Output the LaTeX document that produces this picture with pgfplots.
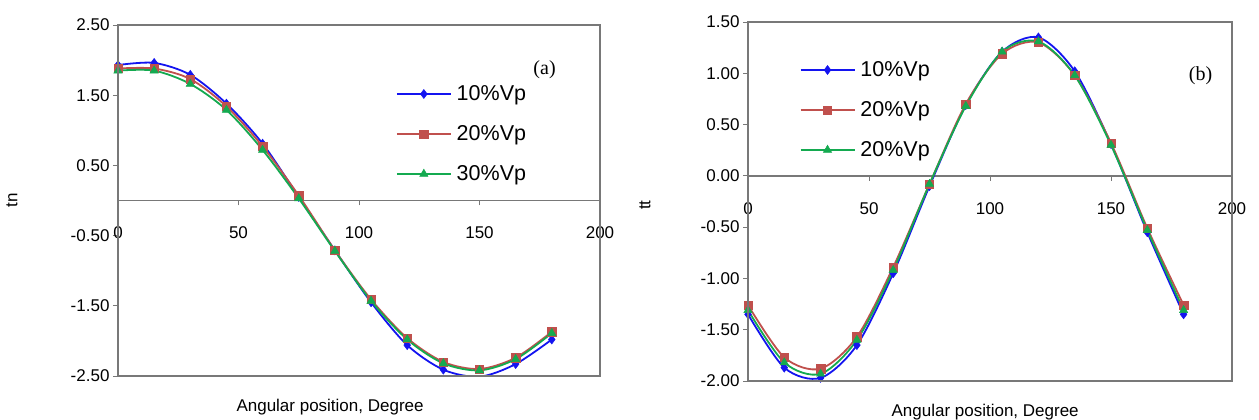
\documentclass[border=0pt]{standalone}
\usepackage{fontspec}
\setmainfont{Liberation Sans}
\newfontfamily\seriffont{Liberation Serif}
\usepackage{pgfplots}
\pgfplotsset{compat=1.18}
\definecolor{cblue}{RGB}{20,20,240}
\definecolor{cred}{RGB}{192,80,77}
\definecolor{cgreen}{RGB}{20,170,80}
\definecolor{frame}{RGB}{120,120,120}
\pgfplotsset{
  myax/.style={
    scale only axis,
    axis x line=middle, axis y line=left,
    axis line style={draw=frame, line width=1.3pt, -},
    hide obscured x ticks=false,
    xmin=0, xmax=200, xtick={0,50,100,150,200},
    tick align=outside, major tick length=5pt,
    tick style={draw=frame, line width=0.9pt},
    font=\fontsize{17}{20}\selectfont,
    tick label style={font=\fontsize{17}{20}\selectfont},
    /pgf/number format/assume math mode=true,
    xticklabel style={yshift=-18pt},
    yticklabel style={/pgf/number format/fixed, /pgf/number format/fixed zerofill, /pgf/number format/precision=2},
    legend style={draw=none, fill=none, anchor=north west, row sep=19.5pt, font=\fontsize{21.5}{24}\selectfont,
      /tikz/every even column/.append style={column sep=0pt}},
    legend cell align=left,
    legend image code/.code={\draw[mark repeat=2,mark phase=2,##1,line width=1.8pt] plot coordinates {(0pt,0pt) (27pt,0pt) (54pt,0pt)};},
    after end axis/.code={\draw[frame, line width=1.3pt] (rel axis cs:0,0) rectangle (rel axis cs:1,1);},
  },
  sb/.style={color=cblue, line width=1.8pt, smooth, mark=diamond*, mark size=4.5pt, mark options={solid, fill=cblue, line width=0.5pt}},
  sr/.style={color=cred, line width=1.8pt, smooth, mark=square*, mark size=4.2pt, mark options={solid, fill=cred, line width=0.5pt}},
  sg/.style={color=cgreen, line width=1.8pt, smooth, mark=triangle*, mark size=4.8pt, mark options={solid, fill=cgreen, line width=0.5pt}},
}
\begin{document}
\begin{tikzpicture}
\useasboundingbox (0pt,0pt) rectangle (1259pt,420pt);
\begin{axis}[myax, at={(118pt,44pt)}, anchor=south west,
  width=482pt, height=351pt,
  ymin=-2.5, ymax=2.5, ytick={-2.5,-1.5,-0.5,0.5,1.5,2.5},
  xlabel={Angular position, Degree},
  xlabel style={at={(rel axis cs:0.44,0)}, anchor=north, yshift=-20pt},
  ylabel={tn},
  ylabel style={at={(rel axis cs:-0.22,0.5)}, anchor=center},
  legend style={at={(rel axis cs:0.57,0.839)}, /tikz/every odd column/.append style={column sep=3pt}},
]
\addplot[sb] coordinates {(0,1.93) (15,1.96) (30,1.79) (45,1.38) (60,0.81) (75,0.05) (90,-0.71) (105,-1.45) (120,-2.06) (135,-2.41) (150,-2.51) (165,-2.33) (180,-1.98)};
\addlegendentry{10\%Vp}
\addplot[sr] coordinates {(0,1.88) (15,1.88) (30,1.73) (45,1.34) (60,0.77) (75,0.07) (90,-0.71) (105,-1.41) (120,-1.96) (135,-2.30) (150,-2.40) (165,-2.24) (180,-1.87)};
\addlegendentry{20\%Vp}
\addplot[sg] coordinates {(0,1.85) (15,1.85) (30,1.66) (45,1.29) (60,0.72) (75,0.03) (90,-0.72) (105,-1.43) (120,-1.98) (135,-2.32) (150,-2.42) (165,-2.26) (180,-1.89)};
\addlegendentry{30\%Vp}
\node[font=\seriffont\fontsize{20}{22}\selectfont] at (axis cs:177,1.86) {(a)};
\end{axis}
\begin{axis}[myax, at={(748pt,39pt)}, anchor=south west,
  width=484pt, height=359pt,
  ymin=-2, ymax=1.5, ytick={-2,-1.5,...,1.5},
  xlabel={Angular position, Degree},
  xlabel style={at={(rel axis cs:0.49,0)}, anchor=north, yshift=-20pt},
  ylabel={tt},
  ylabel style={at={(rel axis cs:-0.213,0.49)}, anchor=center},
  legend style={at={(rel axis cs:0.1,0.901)}, /tikz/every odd column/.append style={column sep=3pt}},
]
\addplot[sb] coordinates {(0,-1.35) (15,-1.87) (30,-1.97) (45,-1.65) (60,-0.95) (75,-0.10) (90,0.69) (105,1.21) (120,1.35) (135,1.02) (150,0.31) (165,-0.55) (180,-1.35)};
\addlegendentry{10\%Vp}
\addplot[sr] coordinates {(0,-1.26) (15,-1.77) (30,-1.88) (45,-1.57) (60,-0.89) (75,-0.08) (90,0.70) (105,1.19) (120,1.30) (135,0.98) (150,0.32) (165,-0.51) (180,-1.26)};
\addlegendentry{20\%Vp}
\addplot[sg] coordinates {(0,-1.31) (15,-1.82) (30,-1.93) (45,-1.60) (60,-0.92) (75,-0.08) (90,0.68) (105,1.21) (120,1.31) (135,0.98) (150,0.30) (165,-0.53) (180,-1.31)};
\addlegendentry{20\%Vp}
\node[font=\seriffont\fontsize{20}{22}\selectfont] at (axis cs:187,0.98) {(b)};
\end{axis}
\end{tikzpicture}
\end{document}
